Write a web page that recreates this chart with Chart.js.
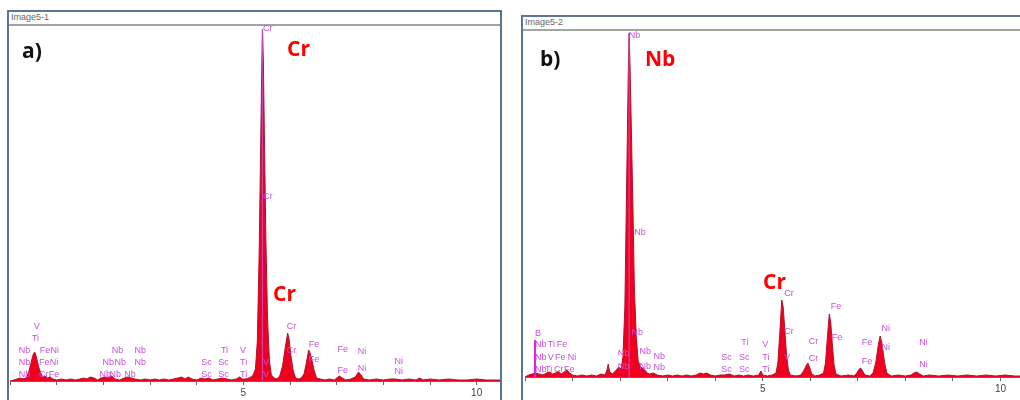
<!DOCTYPE html>
<html>
<head>
<meta charset="utf-8">
<script src="https://cdn.jsdelivr.net/npm/chart.js@4.4.0/dist/chart.umd.min.js"></script>
<style>
body{margin:0;width:1020px;height:400px;overflow:hidden;background:#fff;position:relative;font-family:"Liberation Sans",Arial,sans-serif}
.marco{position:absolute;border:2px solid #5d7590;box-sizing:border-box;height:430px}
.titulo{position:absolute;left:0;right:0;top:0;height:12px;border-bottom:2px solid #a3a3a3;font-size:9px;line-height:11px;color:#666;padding-left:2px}
.grande{position:absolute;font-family:"Open Sans",sans-serif;font-weight:700;font-size:21px;line-height:21px;color:#f00;white-space:nowrap}
.negro{color:#111}
canvas{position:absolute}
</style>
</head>
<body>
<div class="marco" style="left:7px;top:10px;width:495px"><div class="titulo">Image5-1</div></div>
<div class="marco" style="left:521px;top:15px;width:520px"><div class="titulo">Image5-2</div></div>
<canvas id="grafica1" width="492" height="382" style="left:8px;top:23px"></canvas>
<canvas id="grafica2" width="506" height="374" style="left:523px;top:27px"></canvas>
<div class="grande negro" style="left:22px;top:40px">a)</div>
<div class="grande" style="left:287px;top:38px">Cr</div>
<div class="grande" style="left:273px;top:283px">Cr</div>
<div class="grande negro" style="left:540px;top:48px">b)</div>
<div class="grande" style="left:645px;top:48px">Nb</div>
<div class="grande" style="left:763px;top:271px">Cr</div>
<script>
// espectro a) - energia (keV) y cuentas
var energiaA = [0,0.08,0.15,0.22,0.30,0.36,0.40,0.44,0.47,0.50,0.53,0.56,0.59,0.62,0.66,0.70,0.75,0.80,0.86,0.92,
    1.00,1.10,1.20,1.30,1.40,1.50,1.58,1.65,1.72,1.80,1.88,1.95,2.02,2.10,2.18,2.25,2.35,2.45,2.52,2.60,2.68,2.80,2.90,
    3.00,3.10,3.20,3.30,3.40,3.50,3.60,3.68,3.75,3.82,3.90,4.00,4.10,4.18,4.26,4.35,4.45,4.55,4.65,4.75,4.85,4.92,4.98,
    5.05,5.12,5.20,5.26,5.30,5.34,5.37,5.39,5.41,5.43,5.45,5.48,5.52,5.56,5.60,5.66,5.72,5.78,5.84,5.90,5.95,5.98,
    6.02,6.07,6.12,6.18,6.24,6.30,6.35,6.40,6.43,6.47,6.52,6.57,6.65,6.75,6.85,6.95,7.00,7.06,7.12,7.20,7.30,7.40,
    7.47,7.52,7.58,7.70,7.85,8.00,8.15,8.26,8.40,8.55,8.70,8.78,8.85,9.00,9.20,9.40,9.60,9.80,10.00,10.20,10.40,10.50];
var cuentasA = [0,10,20,30,20,40,90,160,220,270,290,250,190,130,80,40,50,30,40,20,
    10,20,10,20,10,20,30,20,40,30,10,30,40,30,50,20,10,30,40,30,20,10,20,
    10,20,10,20,10,20,30,40,20,40,20,10,30,20,30,10,20,30,20,10,20,40,20,
    20,30,50,120,400,1300,2300,3000,3520,3180,2500,1500,600,200,60,30,20,50,150,340,480,420,
    250,100,30,20,30,70,180,310,280,210,100,30,20,10,20,10,30,50,30,10,20,40,
    90,60,20,10,20,10,20,20,10,20,10,30,10,20,10,20,10,10,20,10,10,10];

// espectro b)
var energiaB = [0,0.08,0.15,0.22,0.30,0.38,0.45,0.52,0.58,0.64,0.70,0.76,0.82,0.88,0.94,1.00,1.10,1.20,1.30,1.40,1.50,
    1.60,1.68,1.72,1.75,1.78,1.84,1.92,1.97,2.02,2.06,2.10,2.14,2.17,2.19,2.21,2.24,2.27,2.30,2.34,2.38,2.43,2.47,
    2.52,2.57,2.62,2.70,2.78,2.90,3.00,3.10,3.20,3.30,3.40,3.50,3.60,3.68,3.75,3.82,3.90,4.00,4.10,4.20,4.30,4.40,
    4.50,4.60,4.70,4.80,4.92,4.96,5.00,5.10,5.20,5.28,5.32,5.36,5.40,5.43,5.46,5.50,5.54,5.58,5.70,5.80,5.86,5.92,
    5.95,5.99,6.03,6.10,6.20,6.28,6.32,6.36,6.40,6.43,6.46,6.50,6.54,6.65,6.80,6.92,6.98,7.03,7.06,7.10,7.15,7.25,
    7.32,7.38,7.43,7.47,7.51,7.56,7.61,7.70,7.85,8.00,8.12,8.18,8.24,8.30,8.38,8.50,8.70,8.90,9.10,9.30,9.50,9.70,
    9.90,10.10,10.30,10.60];
var cuentasB = [0,20,30,40,30,20,40,50,30,40,60,30,50,70,40,20,10,20,10,20,10,
    30,20,60,130,50,30,70,100,80,200,700,2000,3000,3440,3100,2400,1700,900,400,160,100,90,
    70,40,30,40,20,10,20,10,20,10,20,10,20,40,30,40,20,10,20,20,30,10,
    20,10,20,10,20,60,20,10,20,40,150,450,770,700,500,220,70,20,10,20,60,120,
    140,90,30,10,20,40,140,400,630,550,350,120,30,10,20,10,40,80,90,60,20,10,
    40,150,320,410,330,150,40,10,20,10,20,40,50,30,10,20,10,20,10,20,10,20,
    10,20,10,10];

// etiquetas de lineas: elemento, energia, altura (cuentas)
var lineasA = ["Nb","Nb","Nb","Ti","V","Cr","Fe","Fe","Ni","Fe","Ni",
    "Nb","Nb","Nb","Nb","Nb","Nb","Nb","Nb",
    "Sc","Sc","Sc","Sc","Ti","Ti","Ti","V","V","V",
    "Cr","Cr","Cr","Cr","Fe","Fe","Fe","Fe","Ni","Ni","Ni","Ni"];
var energiaLineasA = [0.19,0.19,0.19,0.47,0.51,0.62,0.83,0.62,0.85,0.64,0.87,
    1.92,2.13,2.45,1.98,2.24,2.67,2.18,2.67,
    4.10,4.10,4.46,4.46,4.52,4.93,4.93,4.93,5.42,5.42,
    5.42,5.42,5.93,5.93,6.40,6.40,7.02,7.02,7.45,7.45,8.24,8.24];
var alturaLineasA = [60,180,300,420,540,60,60,180,180,300,300,
    60,60,60,180,180,180,300,300,
    60,180,60,180,300,60,180,300,60,180,
    3520,1840,540,300,360,210,310,100,290,120,190,90];

var lineasB = ["B","Nb","Nb","Nb","Ti","Fe","V","Fe","Ni","Ti","Cr","Fe",
    "Nb","Nb","Nb","Nb","Nb","Nb","Nb","Nb","Nb",
    "Sc","Sc","Sc","Sc","Ti","V","Ti","Ti",
    "Cr","Cr","V","Cr","Cr","Fe","Fe","Fe","Fe","Ni","Ni","Ni","Ni"];
var energiaLineasB = [0.21,0.21,0.21,0.21,0.48,0.67,0.48,0.63,0.90,0.42,0.61,0.82,
    1.95,1.95,2.18,2.30,2.24,2.41,2.41,2.70,2.70,
    4.13,4.13,4.50,4.50,4.55,4.99,4.99,4.99,
    5.45,5.45,5.45,5.97,5.97,6.43,6.45,7.08,7.08,7.50,7.50,8.29,8.29];
var alturaLineasB = [430,320,190,70,320,320,190,190,190,70,70,70,
    230,100,3410,1440,440,250,100,200,90,
    190,70,190,70,340,320,190,70,
    830,450,190,350,180,700,390,340,150,480,290,340,120];

// marcadores verticales: energia, altura
var marcasA = [[5.41, 3520]];
var marcasB = [[0.21, 370], [2.19, 3440]];

var etiquetas = {
    id: 'etiquetas',
    afterDatasetsDraw: function(chart, args, opts) {
        var ctx = chart.ctx, x = chart.scales.x, y = chart.scales.y;
        ctx.save();
        opts.marcas.forEach(function(m, i) {
            ctx.strokeStyle = i == 0 && opts.marcas.length > 1 ? '#e020e0' : 'rgba(190,80,200,0.85)';
            ctx.lineWidth = i == 0 && opts.marcas.length > 1 ? 2 : 1.2;
            ctx.beginPath();
            ctx.moveTo(x.getPixelForValue(m[0]), y.getPixelForValue(0));
            ctx.lineTo(x.getPixelForValue(m[0]), y.getPixelForValue(m[1]));
            ctx.stroke();
        });
        ctx.font = '9px "Liberation Sans", Arial, sans-serif';
        ctx.fillStyle = '#c84fd8';
        ctx.textAlign = 'left';
        ctx.textBaseline = 'middle';
        for (var i = 0; i < opts.texto.length; i++) {
            ctx.fillText(opts.texto[i], x.getPixelForValue(opts.energia[i]), y.getPixelForValue(opts.altura[i]));
        }
        ctx.restore();
    }
};

function espectro(id, energia, cuentas, xmax, ymax, texto, energiaT, altura, marcas) {
    var puntos = energia.map(function(e, i) { return {x: e, y: cuentas[i]}; });
    return new Chart(document.getElementById(id).getContext('2d'), {
        type: 'line',
        data: {
            datasets: [{
                data: puntos,
                borderColor: '#b3122c',
                borderWidth: 1,
                backgroundColor: '#f0001e',
                fill: 'origin',
                pointRadius: 0,
                tension: 0
            }]
        },
        options: {
            responsive: false,
            animation: false,
            layout: {padding: 0},
            plugins: {
                legend: {display: false},
                tooltip: {enabled: false},
                etiquetas: {texto: texto, energia: energiaT, altura: altura, marcas: marcas}
            },
            scales: {
                x: {
                    type: 'linear',
                    min: 0,
                    max: xmax,
                    afterFit: function(s) { s.height = 24; },
                    border: {color: '#666'},
                    grid: {drawOnChartArea: false, tickLength: 4, color: '#666'},
                    ticks: {
                        stepSize: 1,
                        includeBounds: false,
                        autoSkip: false,
                        maxRotation: 0,
                        padding: 2,
                        color: '#444',
                        font: {size: 10, family: 'Liberation Sans'},
                        callback: function(v) { return (v == 5 || v == 10) ? String(v) : ''; }
                    }
                },
                y: {display: false, min: 0, max: ymax}
            }
        },
        plugins: [etiquetas]
    });
}

espectro('grafica1', energiaA, cuentasA, 10.5, 3580, lineasA, energiaLineasA, alturaLineasA, marcasA);
espectro('grafica2', energiaB, cuentasB, 10.6, 3500, lineasB, energiaLineasB, alturaLineasB, marcasB);
</script>
</body>
</html>
